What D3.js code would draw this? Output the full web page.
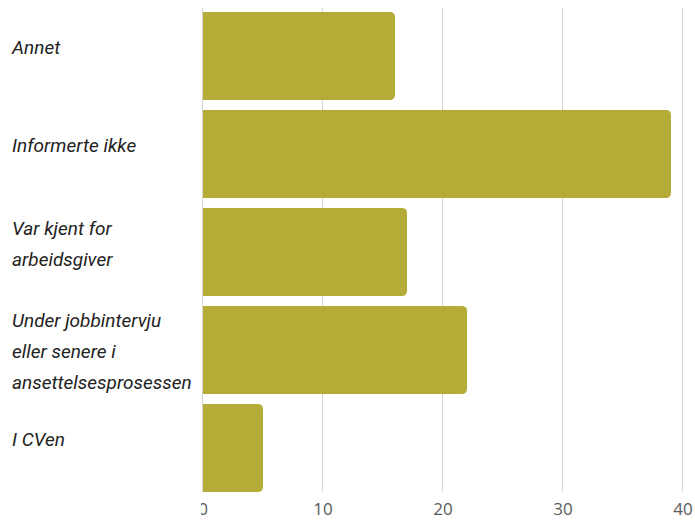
<!DOCTYPE html>
<html>
<head>
<meta charset="utf-8">
<script src="https://cdn.jsdelivr.net/npm/d3@7/dist/d3.min.js"></script>
<style>
  html, body { margin: 0; padding: 0; background: #fff; }
  svg { display: block; }
</style>
</head>
<body>
<svg id="chart" width="695" height="520"></svg>
<script>
// Categories (each entry is the wrapped label lines) and their counts
const categories = [
  ["Annet"],
  ["Informerte ikke"],
  ["Var kjent for", "arbeidsgiver"],
  ["Under jobbintervju", "eller senere i", "ansettelsesprosessen"],
  ["I CVen"]
];
const values = [16, 39, 17, 22, 5];
const tickValues = [0, 10, 20, 30, 40];

const width = 695, height = 520;
const left = 203, right = 683;
const gridTop = 8, gridBottom = 492;
const barColor = "#b4ac36";
const lineHeight = 31;
const axisBaseline = 515;

const svg = d3.select("#chart");

const keys = categories.map(c => c.join(" "));
const x = d3.scaleLinear().domain([0, 40]).range([left, right]);
const y = d3.scaleBand().domain(keys).range([7, 497]).paddingInner(0.1).paddingOuter(0.05);

// vertical grid lines
svg.append("g")
  .selectAll("line")
  .data(tickValues)
  .join("line")
  .attr("x1", d => Math.round(x(d)) - 0.5)
  .attr("x2", d => Math.round(x(d)) - 0.5)
  .attr("y1", gridTop)
  .attr("y2", gridBottom)
  .attr("stroke", "#d6d6d6")
  .attr("stroke-width", 1);

// bars with rounded right end
const r = 5;
function barPath(x0, x1, y0, h) {
  const rr = Math.min(r, (x1 - x0) / 2, h / 2);
  return `M${x0},${y0}H${x1 - rr}A${rr},${rr} 0 0 1 ${x1},${y0 + rr}` +
         `V${y0 + h - rr}A${rr},${rr} 0 0 1 ${x1 - rr},${y0 + h}H${x0}Z`;
}
svg.append("g")
  .selectAll("path")
  .data(keys)
  .join("path")
  .attr("d", (k, i) => barPath(x(0), x(values[i]), y(k), y.bandwidth()))
  .attr("fill", barColor);

// category labels
const labels = svg.append("g")
  .attr("font-family", "Roboto, sans-serif")
  .attr("font-style", "italic")
  .attr("font-size", 19)
  .attr("fill", "#222");
categories.forEach((lines, i) => {
  const k = keys[i];
  const center = y(k) + y.bandwidth() / 2;
  const first = Math.max(center - (lines.length - 1) * lineHeight / 2 - 2, y(k) + 21);
  const t = labels.append("text").attr("x", 12).attr("y", first);
  lines.forEach((ln, j) => {
    t.append("tspan").attr("x", 12).attr("y", first + j * lineHeight).text(ln);
  });
});

// x axis tick labels, clipped at the plot's left edge
svg.append("defs").append("clipPath").attr("id", "axisClip")
  .append("rect").attr("x", 201).attr("y", 495).attr("width", width - 201).attr("height", 25);

const axis = d3.axisBottom(x).tickValues(tickValues).tickSize(0).tickPadding(0);
const ax = svg.append("g")
  .attr("clip-path", "url(#axisClip)")
  .call(axis);
ax.select(".domain").remove();
ax.selectAll(".tick").attr("transform", d => `translate(${x(d)},${axisBaseline})`);
ax.selectAll("text")
  .attr("dy", 0)
  .attr("y", 0)
  .attr("font-family", "'Open Sans', sans-serif")
  .attr("font-size", 17)
  .attr("fill", "#5a5a5a");
</script>
</body>
</html>
